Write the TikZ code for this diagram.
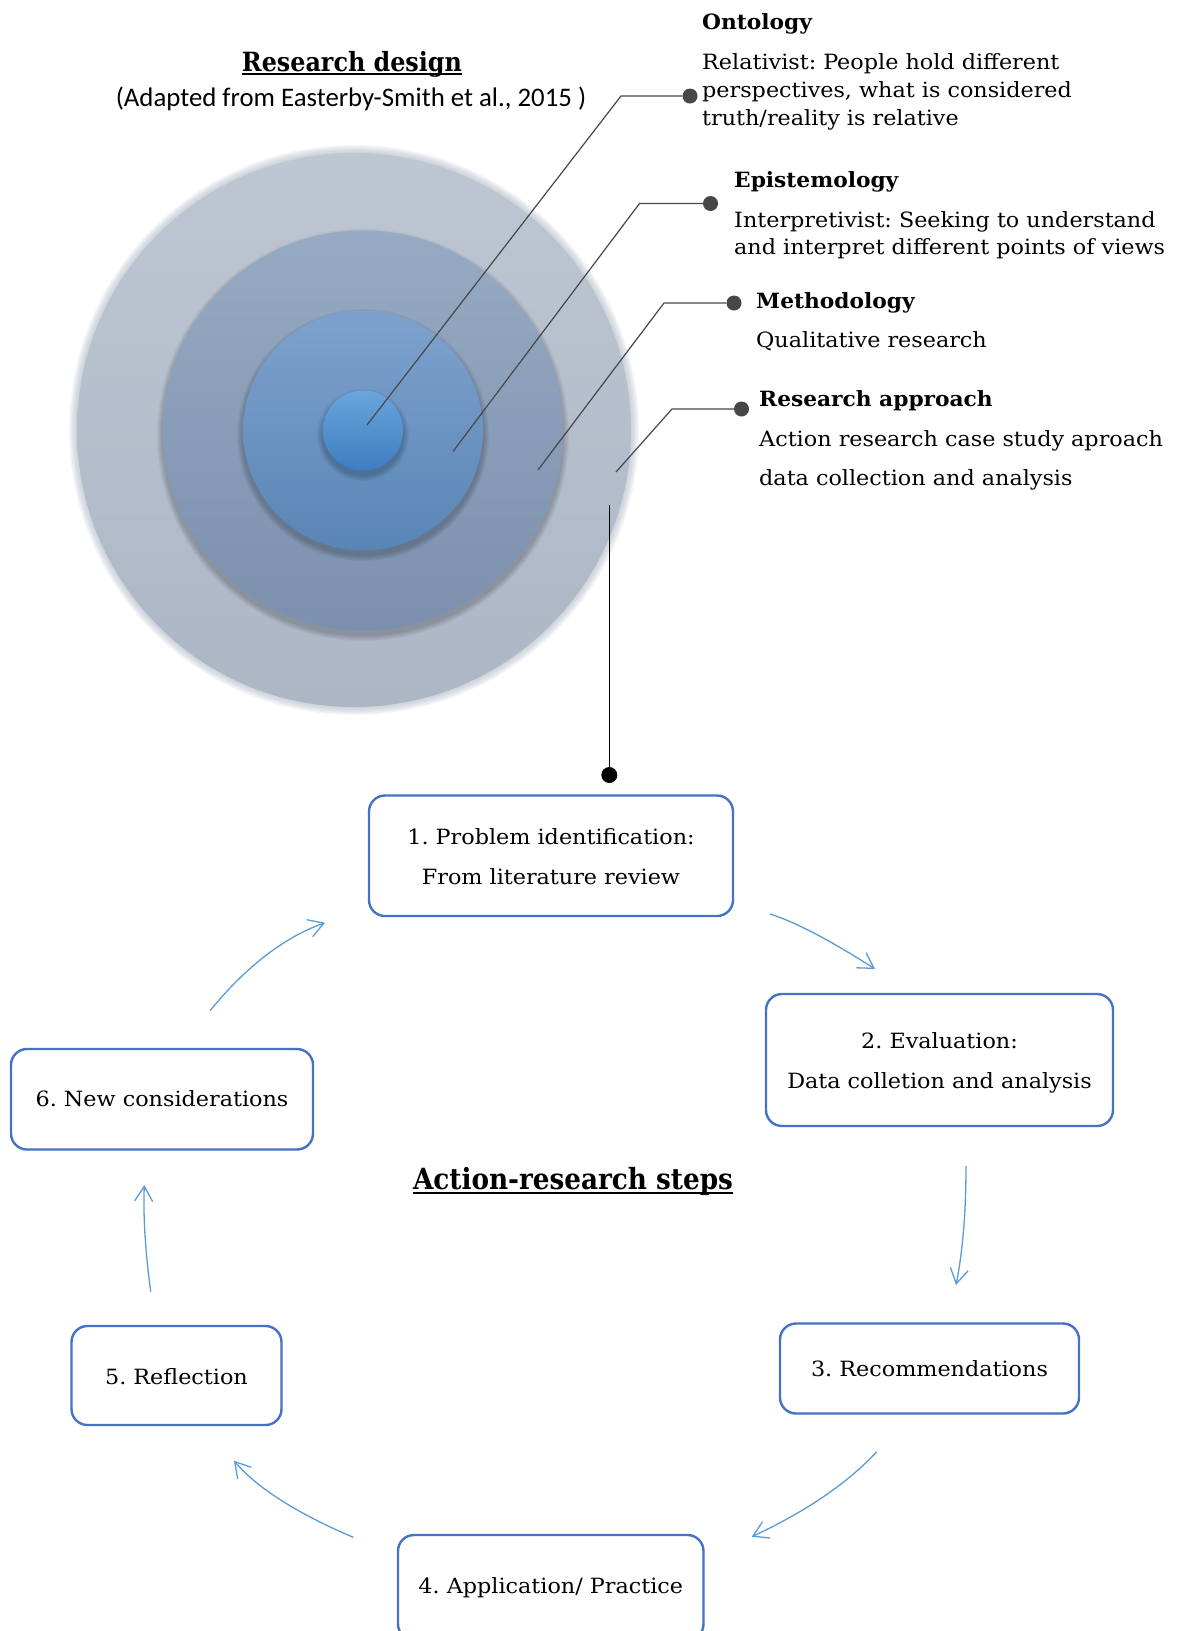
\documentclass[tikz,border=0pt]{standalone}
\usepackage{fontspec}
\setmainfont{DejaVu Serif Condensed}[FakeStretch=1.18]
\newfontfamily\headfont{DejaVu Serif Condensed}[FakeStretch=1.15]
\newfontfamily\titlefont{DejaVu Serif Condensed}
\newfontfamily\notefont{Carlito}
\usetikzlibrary{arrows.meta,calc}

\definecolor{boxblue}{HTML}{4472C4}
\definecolor{arrowblue}{HTML}{5B9BD5}
\definecolor{leadgray}{HTML}{474747}
\definecolor{outerA}{HTML}{BEC6D2}
\definecolor{outerB}{HTML}{ACB6C5}
\definecolor{ringA}{HTML}{97AAC3}
\definecolor{ringB}{HTML}{7B90AD}
\definecolor{midA}{HTML}{7EA2CE}
\definecolor{midB}{HTML}{5985B5}
\definecolor{coreA}{HTML}{6AA5DC}
\definecolor{coreB}{HTML}{3D7DC0}

\tikzset{
  hd/.style={inner sep=0pt, anchor=base west, font=\headfont\bfseries\fontsize{21}{25}\selectfont},
  bd/.style={inner sep=0pt, anchor=base west, font=\fontsize{21}{25}\selectfont},
  st/.style={inner sep=0pt, anchor=base, font=\fontsize{21}{25}\selectfont},
  ttl/.style={inner sep=0pt, anchor=base, font=\titlefont\bfseries\fontsize{26.5}{30}\selectfont},
  stepbox/.style={draw=boxblue, line width=2.4pt, rounded corners=16pt, rectangle, inner sep=0pt},
  leaddot/.style={circle, fill=leadgray, inner sep=0pt, minimum size=15pt},
  enddot/.style={circle, fill=black, inner sep=0pt, minimum size=16pt},
  leader/.style={draw=leadgray, line width=1.2pt},
  cyc/.style={draw=arrowblue, line width=1.3pt, -{Straight Barb[length=15pt,width=18pt,line width=1.3pt]}},
}

% soft shadow below a disc: centre, radius
\newcommand\discshadow[3]{%
  \foreach \k in {1,...,6} {\fill[black, opacity=0.035] (#1,#2+4.5) circle ({#3pt+\k pt});}%
}

\begin{document}
\frenchspacing
\begin{tikzpicture}[x=1pt,y=-1pt]
\useasboundingbox (0,0) rectangle (1176,1631);
\clip (0,0) rectangle (1176,1631);

% ---------- research design: nested discs ----------
\foreach \k in {0,...,6} {\fill[outerB, opacity=0.13] (354,430) circle ({285pt-\k*1.3pt});}
\shade[top color=outerA, bottom color=outerB] (354,430) circle (277pt);

\discshadow{363}{430.5}{200}
\shade[top color=ringA, bottom color=ringB] (363,430.5) circle (200pt);
\discshadow{363}{430.5}{120}
\shade[top color=midA, bottom color=midB] (363,430.5) circle (120pt);
\discshadow{363}{430.5}{40}
\shade[top color=coreA, bottom color=coreB] (363,430.5) circle (40pt);

% ---------- titles ----------
\node[ttl] (rdtitle) at (352,71) {Research design};
\draw[line width=1.8pt] ([yshift=-3pt]rdtitle.base west) -- ([yshift=-3pt]rdtitle.base east);
\node[inner sep=0pt, anchor=base, font=\notefont\fontsize{26.8}{30}\selectfont] (rdnote) at (351,106)
  {(Adapted from Easterby-Smith et al., 2015 )};

% ---------- layer descriptions ----------
\node[hd] (ontT) at (702,29) {Ontology};
\node[bd] (ont1) at (702,69) {Relativist: People hold different};
\node[bd] (ont2) at (702,97.5) {perspectives, what is considered};
\node[bd] (ont3) at (702,125) {truth/reality is relative};

\node[hd] (epiT) at (734,187) {Epistemology};
\node[bd] (epi1) at (734,227) {Interpretivist: Seeking to understand};
\node[bd] (epi2) at (734,254) {and interpret different points of views};

\node[hd] (metT) at (756,308) {Methodology};
\node[bd] (met1) at (756,347) {Qualitative research};

\node[hd] (appT) at (759,406) {Research approach};
\node[bd] (app1) at (759,446) {Action research case study aproach};
\node[bd] (app2) at (759,485) {data collection and analysis};

% ---------- leaders from the layers ----------
\node[leaddot] (ontdot) at (690,96) {};
\coordinate (ontelb) at (621,96);
\coordinate (ontin) at (367,425);
\draw[leader] (ontdot) -- (ontelb) -- (ontin);

\node[leaddot] (epidot) at (710.5,203.5) {};
\coordinate (epielb) at (639.5,203.5);
\coordinate (epiin) at (453,451.5);
\draw[leader] (epidot) -- (epielb) -- (epiin);

\node[leaddot] (metdot) at (734,303) {};
\coordinate (metelb) at (664,303);
\coordinate (metin) at (538,470);
\draw[leader] (metdot) -- (metelb) -- (metin);

\node[leaddot] (appdot) at (741.5,409) {};
\coordinate (appelb) at (672,409);
\coordinate (appin) at (616,472);
\draw[leader] (appdot) -- (appelb) -- (appin);

% link to the action-research cycle
\coordinate (linktop) at (609.3,505);
\node[enddot] (linkdot) at (609.3,775) {};
\draw[line width=1.4pt] (linktop) -- (linkdot);

% ---------- action-research steps ----------
\node[stepbox, minimum width=364pt, minimum height=120.5pt] (s1) at (551,855.75) {};
\node[st] (s1a) at (551,844) {1. Problem identification:};
\node[st] (s1b) at (551,884) {From literature review};

\node[stepbox, minimum width=347pt, minimum height=132pt] (s2) at (939.5,1060) {};
\node[st] (s2a) at (939.5,1048.5) {2. Evaluation:};
\node[st] (s2b) at (939.5,1088.5) {Data colletion and analysis};

\node[stepbox, minimum width=299pt, minimum height=90pt] (s3) at (929.5,1368.5) {};
\node[st] (s3a) at (929.5,1376.5) {3. Recommendations};

\node[stepbox, minimum width=305.5pt, minimum height=105pt] (s4) at (550.75,1587.5) {};
\node[st] (s4a) at (550.75,1593) {4. Application/ Practice};

\node[stepbox, minimum width=210pt, minimum height=99pt] (s5) at (176.5,1375.5) {};
\node[st] (s5a) at (176.5,1384) {5. Reflection};

\node[stepbox, minimum width=302pt, minimum height=100.5pt] (s6) at (162,1099.25) {};
\node[st] (s6a) at (162,1106.5) {6. New considerations};

\node[ttl, font=\titlefont\bfseries\fontsize{29.2}{33}\selectfont] (artitle) at (573,1189.5) {Action-research steps};
\draw[line width=1.8pt] ([yshift=-3.5pt]artitle.base west) -- ([yshift=-3.5pt]artitle.base east);

% ---------- cycle arrows (quadratic curves) ----------
\coordinate (a1s) at (770,914);   \coordinate (a1c) at (808,926);    \coordinate (a1e) at (875,969);
\coordinate (a2s) at (966,1166);  \coordinate (a2c) at (966,1235);   \coordinate (a2e) at (956,1285);
\coordinate (a3s) at (876.7,1451.7); \coordinate (a3c) at (833,1499); \coordinate (a3e) at (751.7,1536.7);
\coordinate (a4s) at (353.3,1537.3); \coordinate (a4c) at (268,1501); \coordinate (a4e) at (234,1460.7);
\coordinate (a5s) at (150.7,1291.7); \coordinate (a5c) at (142.5,1230); \coordinate (a5e) at (144.3,1185);
\coordinate (a6s) at (210,1010.7); \coordinate (a6c) at (264,944.5); \coordinate (a6e) at (325,922.7);

\foreach \a in {a1,a2,a3,a4,a5,a6} {
  \draw[cyc] (\a s) .. controls ($(\a s)!0.6667!(\a c)$) and ($(\a e)!0.6667!(\a c)$) .. (\a e);
}
\end{tikzpicture}
\end{document}
